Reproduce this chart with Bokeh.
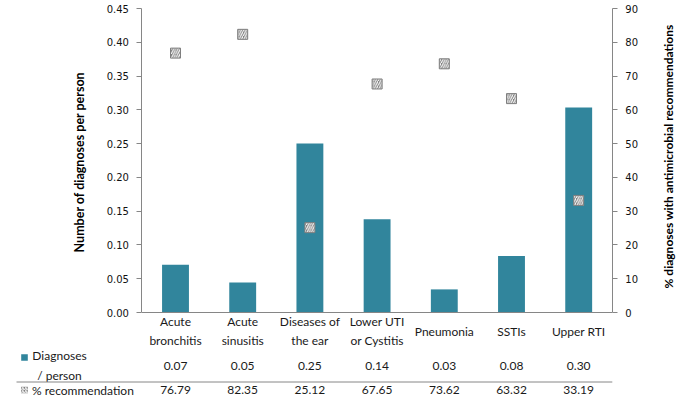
import math
from bokeh.plotting import figure
from bokeh.models import (ColumnDataSource, Range1d, LinearAxis, FixedTicker,
                          FactorRange, NumeralTickFormatter)
from bokeh.embed import file_html
from bokeh.resources import INLINE
from bokeh.core.properties import value

# ---------------- data ----------------
categories = ["Acute bronchitis", "Acute sinusitis", "Diseases of the ear",
              "Lower UTI or Cystitis", "Pneumonia", "SSTIs", "Upper RTI"]
category_text = ["Acute\nbronchitis", "Acute\nsinusitis", "Diseases of\nthe ear",
                 "Lower UTI\nor Cystitis", "Pneumonia", "SSTIs", "Upper RTI"]
diagnoses_per_person = [0.0706, 0.0444, 0.2500, 0.1380, 0.0342, 0.0837, 0.3035]
diagnoses_labels = ["0.07", "0.05", "0.25", "0.14", "0.03", "0.08", "0.30"]
pct_recommendation = [76.79, 82.35, 25.12, 67.65, 73.62, 63.32, 33.19]
left_ticks = [0.0, 0.05, 0.10, 0.15, 0.20, 0.25, 0.30, 0.35, 0.40, 0.45]
right_ticks = [0, 10, 20, 30, 40, 50, 60, 70, 80, 90]
row_headers = ["Diagnoses\n/ person", "% recommendation"]
left_title = "Number of diagnoses  per person"
right_title = "% diagnoses with antimicrobial recommendations"

TEAL = "#31859C"
GREY = "#7F7F7F"
AXIS = "#868686"
TXT = "#1a1a1a"

W, H = 679, 398
BORDER_L = 7
LEFT_PAD = ["_pad_l1", "_pad_l2"]      # empty slots that hold the axis / row headers
RIGHT_PAD = ["_pad_r1"]
N = len(categories)
SLOTS = len(LEFT_PAD) + N + len(RIGHT_PAD)
UNIT = (W - BORDER_L) / SLOTS         # pixels per slot
X0 = float(len(LEFT_PAD))             # left edge of first category (synthetic)
X1 = X0 + N                           # right edge of last category

Y_MAX = 0.45
BASE = 312.0                          # pixel row of value 0
TOP = 8.0                             # pixel row of value Y_MAX
PPU = (BASE - TOP) / Y_MAX            # pixels per unit


def ypx(py):
    return (BASE - py) / PPU


def xpx(px):
    return (px - BORDER_L) / UNIT


p = figure(x_range=FactorRange(*(LEFT_PAD + categories + RIGHT_PAD)),
           y_range=Range1d(-(H - BASE) / PPU, Y_MAX + TOP / PPU),
           width=W, height=H, output_backend="svg", toolbar_location=None,
           x_axis_location=None, min_border=0, min_border_left=BORDER_L)
p.outline_line_color = None
p.grid.visible = False

src = ColumnDataSource(dict(cat=categories, diag=diagnoses_per_person,
                            pct=pct_recommendation))
p.vbar(x="cat", top="diag", width=0.4, source=src, fill_color=TEAL, line_color=None)

scale = 90 / Y_MAX
p.extra_y_ranges = {"pct": Range1d(p.y_range.start * scale, p.y_range.end * scale)}
p.scatter(x="cat", y="pct", source=src, y_range_name="pct", marker="square", size=10,
          fill_color=GREY, line_color=GREY, hatch_pattern="/", hatch_color="white",
          hatch_scale=4.5, hatch_weight=1.1)

# axes, fixed at the category block edges
ya = p.yaxis[0]
ya.fixed_location = X0
ya.bounds = (0, Y_MAX)
ya.ticker = FixedTicker(ticks=left_ticks)
ya.formatter = NumeralTickFormatter(format="0.00")
ya.axis_label = left_title
ya.axis_label_standoff = 16
ya.major_label_standoff = 8
ya.axis_label_text_font = "Lato"
ya.axis_label_text_font_style = "bold"
ya.axis_label_text_color = "black"
ya.axis_label_text_font_size = "12.5px"

ra = LinearAxis(y_range_name="pct", ticker=FixedTicker(ticks=right_ticks))
ra.fixed_location = X1
ra.bounds = (0, 90)
ra.major_label_standoff = 8
ra.major_label_text_align = "left"
p.add_layout(ra, "right")

for ax in (ya, ra):
    ax.major_label_text_font = "DejaVu Sans"
    ax.major_label_text_font_size = "10px"
    ax.major_label_text_color = "#111111"
    ax.major_tick_out = 5
    ax.major_tick_in = 0
    ax.minor_tick_out = 0
    ax.minor_tick_in = 0
    ax.axis_line_color = AXIS
    ax.major_tick_line_color = AXIS

# title of the right axis, reading bottom-to-top as in the reference
p.text(x=[xpx(667.5)], y=[ypx(156)], text=[right_title], angle=math.pi / 2,
       text_align="center", text_baseline="middle", text_font=value("Lato"),
       text_font_style="bold", text_font_size="12px", text_color="black")

# category axis line
p.segment(x0=[X0], y0=[0], x1=[X1], y1=[0], line_color=AXIS, line_width=1)

# ---------------- data table ----------------
ROW_CAT, ROW_D, ROW_SEP, ROW_P = 330.5, 365, 381.5, 389.5
tsrc = ColumnDataSource(dict(
    cat=categories,
    ctext=category_text,
    dlab=diagnoses_labels,
    plab=[f"{v:.2f}" for v in pct_recommendation],
    yc=[ypx(ROW_CAT)] * N, yd=[ypx(ROW_D)] * N, yp=[ypx(ROW_P)] * N,
))
common = dict(text_align="center", text_baseline="middle", text_font=value("Lato"),
              text_font_size="12px", text_color=TXT)
p.text(x="cat", y="yc", text="ctext", source=tsrc, text_line_height=1.3, **common)
p.text(x="cat", y="yd", text="dlab", source=tsrc, **common)
p.text(x="cat", y="yp", text="plab", source=tsrc, **common)

p.text(x=[xpx(59)], y=[ypx(ROW_D)], text=[row_headers[0]], text_line_height=1.3, **common)
p.text(x=[xpx(31.5)], y=[ypx(ROW_P)], text=[row_headers[1]], text_align="left",
       text_baseline="middle", text_font=value("Lato"), text_font_size="12px",
       text_color=TXT)

# legend keys
p.rect(x=[xpx(24)], y=[ypx(ROW_D - 8)], width=6.6, height=6.6, width_units="screen",
       height_units="screen", fill_color=TEAL, line_color=None)
p.rect(x=[xpx(24)], y=[ypx(ROW_P)], width=6.6, height=6.6, width_units="screen",
       height_units="screen", fill_color=GREY, line_color=None,
       hatch_pattern="/", hatch_color="white", hatch_scale=3, hatch_weight=1)
# separator between the table rows
p.segment(x0=[xpx(16)], y0=[ypx(ROW_SEP)], x1=[X1], y1=[ypx(ROW_SEP)],
          line_color=AXIS, line_width=1)

open("out.html", "w").write(file_html(p, INLINE))
